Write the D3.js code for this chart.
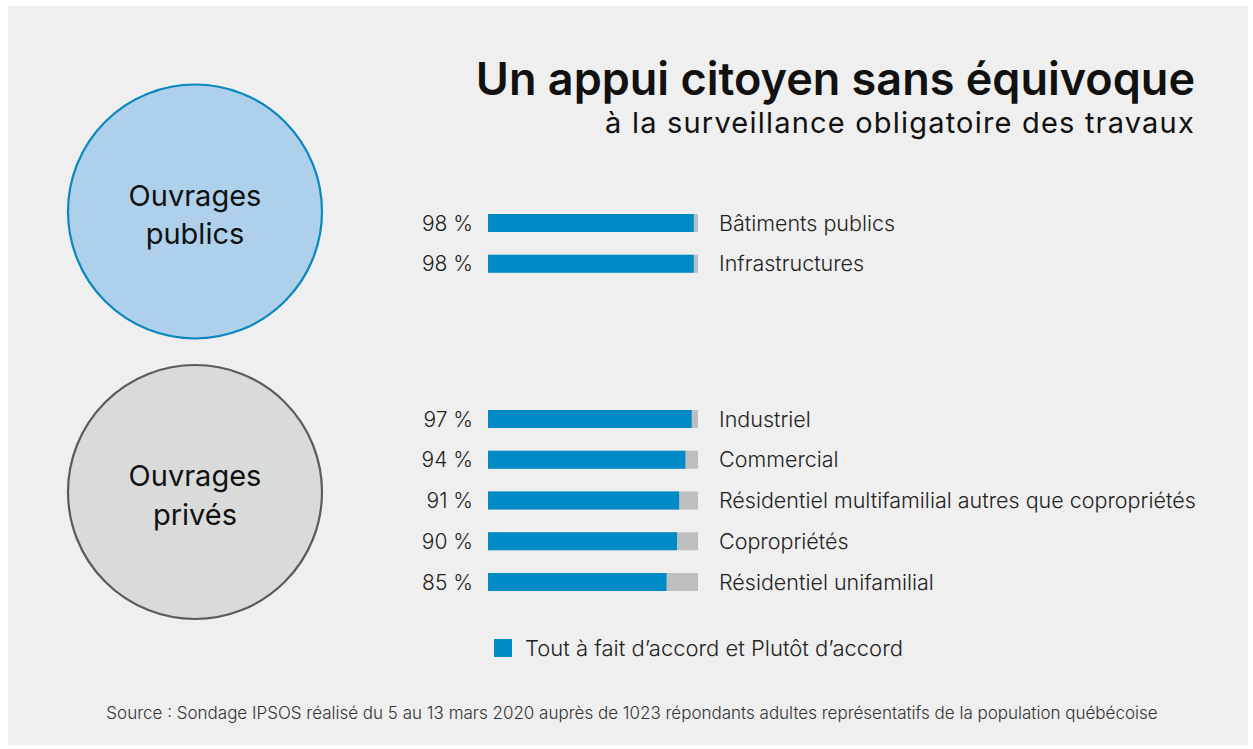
<!DOCTYPE html>
<html>
<head>
<meta charset="utf-8">
<script src="https://cdn.jsdelivr.net/npm/d3@7"></script>
<style>
  html, body { margin: 0; padding: 0; background: #fff; }
  svg { display: block; }
  text { font-family: Inter, "Open Sans", sans-serif; }
</style>
</head>
<body>
<div id="chart"></div>
<script>
const publicCats = ["Bâtiments publics", "Infrastructures"];
const publicVals = [98, 98];
const privateCats = ["Industriel", "Commercial", "Résidentiel multifamilial autres que copropriétés", "Copropriétés", "Résidentiel unifamilial"];
const privateVals = [97, 94, 91, 90, 85];
const groupNames = [["Ouvrages", "publics"], ["Ouvrages", "privés"]];
const legendLabel = "Tout à fait d’accord et Plutôt d’accord";
const title = "Un appui citoyen sans équivoque";
const subtitle = "à la surveillance obligatoire des travaux";
const source = "Source : Sondage IPSOS réalisé du 5 au 13 mars 2020 auprès de 1023 répondants adultes représentatifs de la population québécoise";

const W = 1253, H = 749;
const blue = "#008bc7", grey = "#bdbebf";

const svg = d3.select("#chart").append("svg")
  .attr("width", W)
  .attr("height", H);

svg.append("rect")
  .attr("x", 8).attr("y", 6)
  .attr("width", 1240).attr("height", 739)
  .attr("fill", "#efefef");

// title block
svg.append("text")
  .attr("x", 1195).attr("y", 95)
  .attr("text-anchor", "end")
  .attr("font-size", 45).attr("font-weight", 600)
  .attr("fill", "#111")
  .text(title);
svg.append("text")
  .attr("x", 1195).attr("y", 133)
  .attr("text-anchor", "end")
  .attr("font-size", 29).attr("font-weight", 400)
  .attr("letter-spacing", 1.2)
  .attr("fill", "#111")
  .text(subtitle);

const x = d3.scaleLinear().domain([0, 100]).range([488, 698]);
const barH = 18;

const groups = [
  { cats: publicCats, vals: publicVals, y0: 223, cy: 211.5, fill: "#aed0ea", stroke: "#0a87bf" },
  { cats: privateCats, vals: privateVals, y0: 419, cy: 492, fill: "#d9dada", stroke: "#5b5b5b" }
];

groups.forEach((grp, gi) => {
  const y = d3.scalePoint()
    .domain(grp.cats)
    .range([grp.y0, grp.y0 + 40.75 * (grp.cats.length - 1)]);

  const rows = grp.cats.map((c, i) => ({ cat: c, val: grp.vals[i] }));

  // circle
  svg.append("circle")
    .attr("cx", 195).attr("cy", grp.cy).attr("r", 127)
    .attr("fill", grp.fill)
    .attr("stroke", grp.stroke)
    .attr("stroke-width", 2.2);
  svg.append("text")
    .attr("x", 195).attr("y", grp.cy - 6)
    .attr("text-anchor", "middle")
    .attr("font-size", 29).attr("fill", "#111")
    .selectAll("tspan")
    .data(groupNames[gi])
    .enter().append("tspan")
    .attr("x", 195)
    .attr("dy", (d, i) => i === 0 ? 0 : 38.5)
    .text(d => d);

  const g = svg.append("g");

  // grey remainder
  g.selectAll("rect.bg")
    .data(rows).enter().append("rect")
    .attr("class", "bg")
    .attr("x", x(0))
    .attr("y", d => y(d.cat) - barH / 2)
    .attr("width", x(100) - x(0))
    .attr("height", barH)
    .attr("fill", grey);

  g.selectAll("rect.val")
    .data(rows).enter().append("rect")
    .attr("class", "val")
    .attr("x", x(0))
    .attr("y", d => y(d.cat) - barH / 2)
    .attr("width", d => x(d.val) - x(0))
    .attr("height", barH)
    .attr("fill", blue);

  g.selectAll("text.pct")
    .data(rows).enter().append("text")
    .attr("class", "pct")
    .attr("x", 473)
    .attr("y", d => y(d.cat) + 7.5)
    .attr("text-anchor", "end")
    .attr("font-size", 21).attr("font-weight", 300)
    .attr("fill", "#222")
    .text(d => d.val + " %");

  g.selectAll("text.cat")
    .data(rows).enter().append("text")
    .attr("class", "cat")
    .attr("x", 719)
    .attr("y", d => y(d.cat) + 7.5)
    .attr("font-size", 21.5).attr("font-weight", 300)
    .attr("fill", "#222")
    .text(d => d.cat);
});

// legend
svg.append("rect")
  .attr("x", 494).attr("y", 639)
  .attr("width", 18).attr("height", 18)
  .attr("fill", blue);
svg.append("text")
  .attr("x", 525).attr("y", 656)
  .attr("font-size", 22).attr("font-weight", 300)
  .attr("fill", "#222")
  .text(legendLabel);

// source
svg.append("text")
  .attr("x", 632).attr("y", 719)
  .attr("text-anchor", "middle")
  .attr("font-size", 17).attr("font-weight", 300)
  .attr("fill", "#333")
  .text(source);
</script>
</body>
</html>
